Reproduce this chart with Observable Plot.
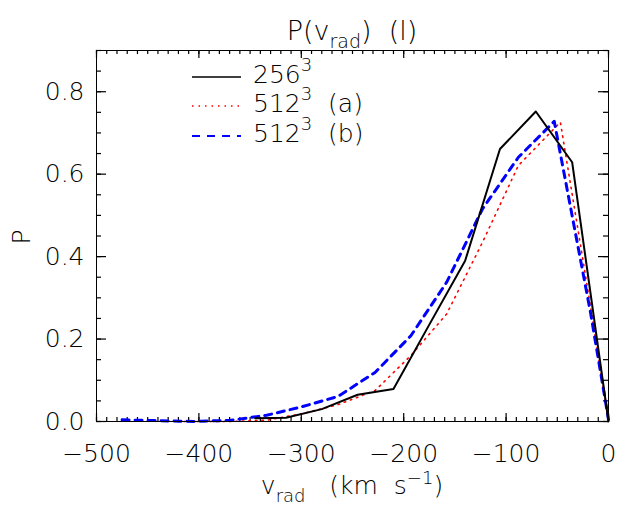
<!DOCTYPE html>
<html>
<head>
<meta charset="utf-8">
<script src="https://cdn.jsdelivr.net/npm/d3@7"></script>
<script src="https://cdn.jsdelivr.net/npm/@observablehq/plot@0.6"></script>
<style>
  html, body { margin: 0; padding: 0; background: #fff; }
  #chart { width: 640px; height: 512px; }
  svg text { white-space: pre; }
</style>
</head>
<body>
<div id="chart"></div>
<script>
// ---- data ----
const v256 = [-345, -315, -280, -245, -210, -175, -140, -106, -71, -35.5, 0];
const p256 = [0.008, 0.009, 0.030, 0.065, 0.079, 0.235, 0.39, 0.661, 0.752, 0.629, 0.0];

const v512a = [-421, -404, -369, -334, -299, -264, -228, -193, -158, -123, -88, -47, -17.6, 0];
const p512a = [0.0, 0.0, 0.0, 0.003, 0.019, 0.041, 0.075, 0.16, 0.261, 0.435, 0.621, 0.726, 0.28, 0.0];

const v512b = [-475, -440, -404, -369, -334, -299, -264, -228, -193, -158, -123, -88, -53, -17.6, 0];
const p512b = [0.004, 0.002, 0.0, 0.003, 0.015, 0.036, 0.061, 0.119, 0.208, 0.338, 0.516, 0.641, 0.728, 0.265, 0.005];

const xTickLabels = [-500, -400, -300, -200, -100, 0];
const yTickLabels = [0.0, 0.2, 0.4, 0.6, 0.8];
const xMinorTicks = d3.range(-500, 0.001, 10);
const yMinorTicks = d3.range(0, 0.9001, 0.05);

const s256 = v256.map((v, i) => ({v, p: p256[i]}));
const s512a = v512a.map((v, i) => ({v, p: p512a[i]}));
const s512b = v512b.map((v, i) => ({v, p: p512b[i]}));

// ---- layout ----
const W = 640, H = 512;
const mL = 96, mR = 32, mT = 50, mB = 91;
const iw = W - mL - mR, ih = H - mT - mB;
const FONT = "'DejaVu Sans', sans-serif";
const TW = 1.2; // tick stroke width

const chart = Plot.plot({
  width: W, height: H,
  marginLeft: mL, marginRight: mR, marginTop: mT, marginBottom: mB,
  style: {fontFamily: FONT, fontSize: "25px", fontWeight: 200, color: "black"},
  x: {domain: [-500, 0]},
  y: {domain: [0, 0.9]},
  marks: [
    Plot.axisX(xTickLabels, {
      tickSize: 0, tickPadding: 23, label: null, fontSize: 25,
      tickFormat: d => d === 0 ? "0" : "\u2212" + Math.abs(d)
    }),
    Plot.axisY(yTickLabels, {
      tickSize: 0, tickPadding: 12, label: null, fontSize: 25,
      tickFormat: d => d.toFixed(1)
    }),
    // inward ticks on all four sides (IDL style)
    Plot.tickX(xMinorTicks, {x: d => d, insetTop: ih - 4, stroke: "black", strokeWidth: TW}),
    Plot.tickX(xMinorTicks, {x: d => d, insetBottom: ih - 4, stroke: "black", strokeWidth: TW}),
    Plot.tickX(xTickLabels, {x: d => d, insetTop: ih - 8, stroke: "black", strokeWidth: TW}),
    Plot.tickX(xTickLabels, {x: d => d, insetBottom: ih - 8, stroke: "black", strokeWidth: TW}),
    Plot.tickY(yMinorTicks, {y: d => d, insetRight: iw - 5, stroke: "black", strokeWidth: TW}),
    Plot.tickY(yMinorTicks, {y: d => d, insetLeft: iw - 5, stroke: "black", strokeWidth: TW}),
    Plot.tickY(yTickLabels, {y: d => d, insetRight: iw - 10, stroke: "black", strokeWidth: TW}),
    Plot.tickY(yTickLabels, {y: d => d, insetLeft: iw - 10, stroke: "black", strokeWidth: TW}),
    // series
    Plot.line(s512a, {x: "v", y: "p", stroke: "#ff0000", strokeWidth: 1.6, strokeDasharray: "1.5,5"}),
    Plot.line(s512b, {x: "v", y: "p", stroke: "#0000ff", strokeWidth: 3, strokeDasharray: "7,6"}),
    Plot.line(s256, {x: "v", y: "p", stroke: "black", strokeWidth: 2}),
    Plot.frame({stroke: "black", strokeWidth: 1})
  ]
});
document.getElementById("chart").appendChild(chart);

const svg = d3.select(chart);
const xs = chart.scale("x");
const cx = (xs.range[0] + xs.range[1]) / 2;

// ---- title, axis titles and legend as real text ----
const g = svg.append("g").attr("font-family", FONT).attr("font-weight", 200).attr("fill", "black");

// title
const t = g.append("text").attr("x", cx).attr("y", 40).attr("text-anchor", "middle").attr("font-size", 27);
t.append("tspan").text("P(v");
t.append("tspan").attr("font-size", 19).attr("dy", 8).text("rad");
t.append("tspan").attr("dy", -8).text(")  (l)");

// x axis title
const xl = g.append("text").attr("x", cx).attr("y", 494).attr("text-anchor", "middle").attr("font-size", 25);
xl.append("tspan").text("v");
xl.append("tspan").attr("font-size", 18).attr("dy", 8).text("rad");
xl.append("tspan").attr("dy", -8).text("   (km  s");
xl.append("tspan").attr("font-size", 18).attr("dy", -10).text("\u22121");
xl.append("tspan").attr("dy", 10).text(")");

// y axis title
g.append("text").attr("transform", "translate(30,237) rotate(-90)").attr("text-anchor", "middle")
  .attr("font-size", 25).text("P");

// legend
const legend = [
  {label: "256", extra: "", stroke: "black", width: 1.5, dash: null, y: 77},
  {label: "512", extra: "  (a)", stroke: "#ff0000", width: 1.5, dash: "1.5,5", y: 106},
  {label: "512", extra: "  (b)", stroke: "#0000ff", width: 2, dash: "8,7", y: 136}
];
legend.forEach(d => {
  const ln = g.append("line").attr("x1", 192).attr("x2", 241).attr("y1", d.y).attr("y2", d.y)
    .attr("stroke", d.stroke).attr("stroke-width", d.width);
  if (d.dash) ln.attr("stroke-dasharray", d.dash);
  const tx = g.append("text").attr("x", 253).attr("y", d.y + 6).attr("font-size", 25).attr("text-anchor", "start");
  tx.append("tspan").text(d.label);
  tx.append("tspan").attr("font-size", 18).attr("dy", -12).text("3");
  if (d.extra) tx.append("tspan").attr("dy", 12).text(d.extra);
});
</script>
</body>
</html>
